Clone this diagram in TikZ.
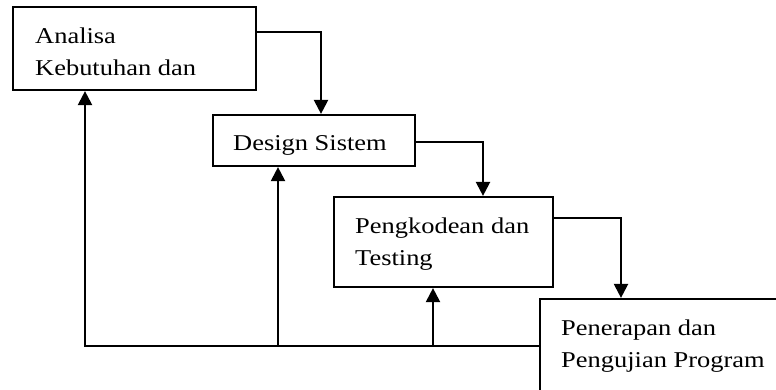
\documentclass[tikz,border=0pt]{standalone}
\usepackage{fontspec}
\setmainfont{Liberation Serif}[FakeStretch=1.17]
\usetikzlibrary{arrows.meta}
\begin{document}
\begin{tikzpicture}[x=1pt,y=-1pt,
  box/.style={draw, line width=2.2pt, inner sep=0pt, fill=white},
  txt/.style={inner sep=0pt, align=left, font=\fontsize{22.6}{32}\selectfont},
  link/.style={line width=2.2pt},
  arr/.style={link, -{Triangle[length=14pt,width=14pt]}}]
\useasboundingbox (0,0) rectangle (776,389);
\clip (0,0) rectangle (776,389);

% process boxes
\node[box, minimum width=243pt, minimum height=83pt] (b1) at (134.5,48.5) {};
\node[box, minimum width=202pt, minimum height=51pt] (b2) at (314,140.5) {};
\node[box, minimum width=219pt, minimum height=90pt] (b3) at (443.5,242) {};
\node[box, minimum width=260pt, minimum height=111pt] (b4) at (670,354.5) {};

% box labels
\node[txt, anchor=north west] (t1) at (35,27.6) {Analisa\\Kebutuhan dan};
\node[txt, anchor=base west] (t2) at (233,150) {Design Sistem};
\node[txt, anchor=north west] (t3) at (355,217.6) {Pengkodean dan\\Testing};
\node[txt, anchor=north west] (t4) at (561,319.6) {Penerapan dan\\Pengujian Program};

% forward flow
\draw[arr] ([yshift=16.5pt]b1.east) -| ([xshift=7pt]b2.north);
\draw[arr] ([yshift=-1.5pt]b2.east) -| ([xshift=39.5pt]b3.north);
\draw[arr] ([yshift=24pt]b3.east) -| ([xshift=-49pt]b4.north);

% feedback flow
\coordinate (fbin) at ([yshift=8.5pt]b4.west);
\draw[arr] (fbin) -| ([xshift=-49.5pt]b1.south);
\draw[arr] ([xshift=-36pt]b2.south |- fbin) -- ([xshift=-36pt]b2.south);
\draw[arr] ([xshift=-10.5pt]b3.south |- fbin) -- ([xshift=-10.5pt]b3.south);
\end{tikzpicture}
\end{document}
